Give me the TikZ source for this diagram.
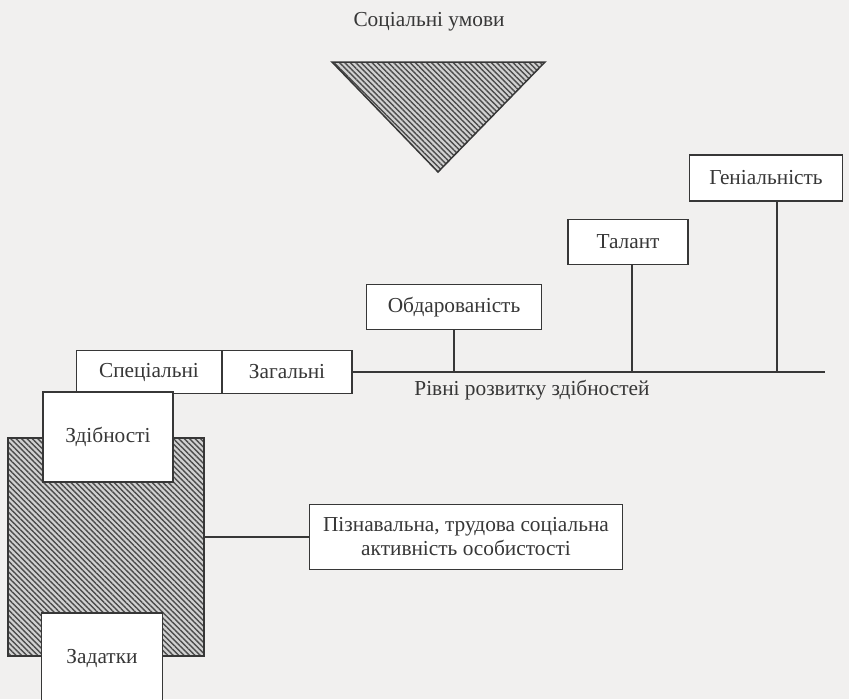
\documentclass[tikz,border=0pt]{standalone}
\usepackage{fontspec}
\setmainfont{Liberation Serif}
\usetikzlibrary{patterns.meta, positioning}
\definecolor{ink}{RGB}{55,55,55}
\definecolor{paper}{RGB}{241,240,239}
\tikzset{x=0.6pt, y=-0.6pt, % one unit is one pixel of the scan
boxsize/.style 2 args={minimum width=#1*0.6pt, minimum height=#2*0.6pt}, % box size in pixels
label text/.style={text=ink, font=\fontsize{12.8pt}{14.4pt}\selectfont}, % the serif labels
level/.style={label text, draw=ink, line width=0.9pt, fill=white, inner sep=0pt}, % boxes with a label
hatched/.style={draw=ink, line width=0.9pt, preaction={fill=black!18}, pattern={Lines[angle=-45,distance=2.3pt,line width=0.85pt]}, pattern color=black!70}, % striped areas
link/.style={draw=ink, line width=0.9pt}, % plain connectors
}

\begin{document}
\begin{tikzpicture}
    \fill[paper] (0,0) rectangle (849,699);
    \useasboundingbox (0,0) rectangle (849,699);
    % social conditions
    \node[label text] (social) at (429,22) {Соціальні умови};
    \coordinate (tl) at (332,62);
    \coordinate (tr) at (545,62);
    \coordinate (tip) at (438,172);
    \draw[hatched] (tl) -- (tr) -- (tip) -- cycle;
    % levels of development
    \node[level, boxsize={153}{46}] (genius) at (766,178) {Геніальність};
    \node[level, boxsize={120}{45}] (talent) at (628,242) {Талант};
    \node[level, boxsize={175}{45}] (gifted) at (454,307) {Обдарованість};
    \node[level, boxsize={145}{43}] (special) at (149,372) {Спеціальні};
    \node[level, boxsize={130}{43}] (general) at (287,372) {Загальні};
    \coordinate (levelend) at (825,372);
    \draw[link] (general.east) -- (levelend);
    \draw[link] (gifted.south) -- (gifted.south |- levelend);
    \draw[link] ([xshift=2.4pt]talent.south) -- ([xshift=2.4pt]talent.south |- levelend);
    \draw[link] ([xshift=6.6pt]genius.south) -- ([xshift=6.6pt]genius.south |- levelend);
    \node[label text] (levels) at (532,390) {Рівні розвитку здібностей};
    % abilities and inclinations
    \node[hatched, boxsize={196}{218}] (block) at (106,547) {};
    \node[level, boxsize={130}{90}] (abil) at (108,437) {Здібності};
    \node[level, boxsize={313}{65}, align=center] (activity) at (466,537) {Пізнавальна, трудова соціальна\\активність особистості};
    \draw[link] (activity.west -| block.east) -- (activity.west);
    \node[level, boxsize={121}{90}] (zad) at (102,658) {Задатки};
\end{tikzpicture}
\end{document}
